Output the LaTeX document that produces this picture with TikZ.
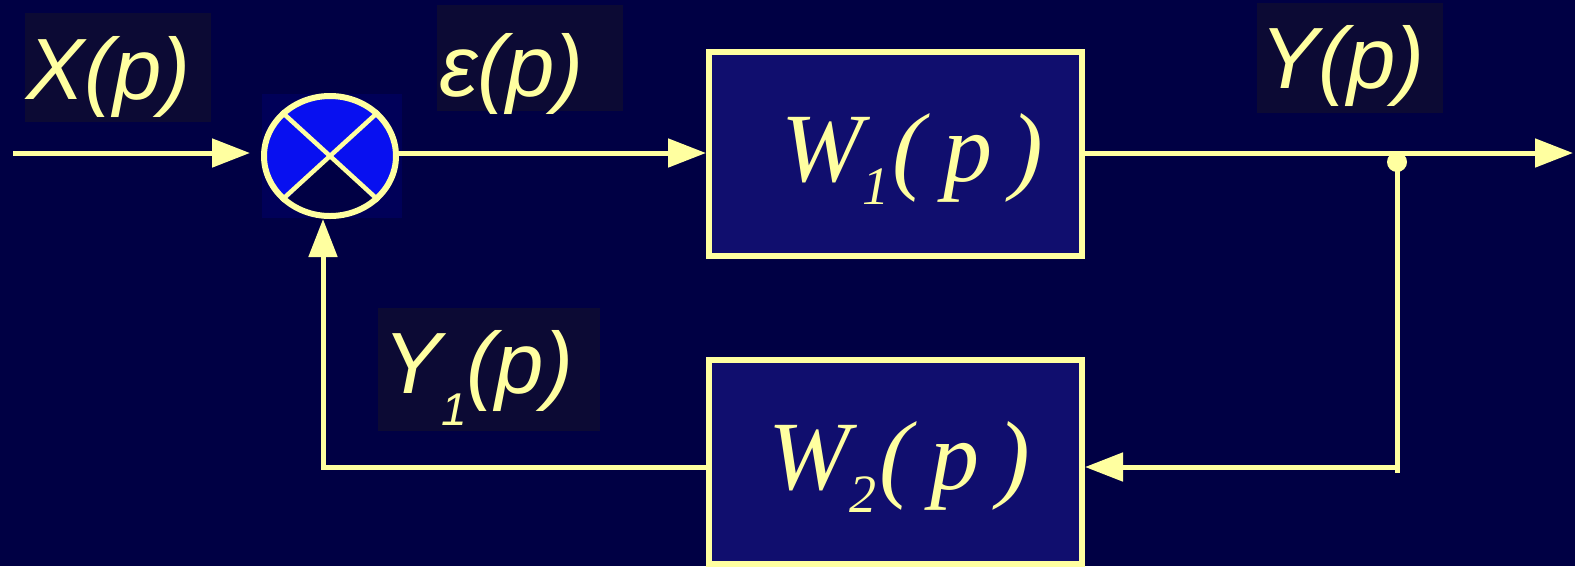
\documentclass[tikz,border=0pt]{standalone}
\usepackage{fontspec}
\setmainfont{Liberation Serif}
\setsansfont{Liberation Sans}
\usetikzlibrary{arrows.meta, shapes.geometric}
\definecolor{bgnavy}{RGB}{0, 0, 68}
\definecolor{lblnavy}{RGB}{12, 10, 52}
\definecolor{blocknavy}{RGB}{16, 14, 110}
\definecolor{juncnavy}{RGB}{0, 0, 88}
\definecolor{sumblue}{RGB}{8, 16, 240}
\definecolor{cream}{RGB}{255, 255, 160}
\newcommand{\wsub}[1]{\raisebox{-23pt}{\fontsize{54}{60}\selectfont #1}\kern3pt}
\newcommand{\ysub}[1]{\raisebox{-32pt}{\fontsize{46}{50}\selectfont #1}}
\newcommand{\parg}{(\kern18pt p\kern18pt)}

\begin{document}
\begin{tikzpicture}[
      x=1pt, y=-1pt,
      >=Triangle,
      wire/.style={draw=cream, line width=5pt},
      arrow/.style={wire, -{Triangle[length=38pt, width=28pt]}},
      block/.style={rectangle, draw=cream, line width=6pt, fill=blocknavy, text=cream, minimum width=373pt, minimum height=204pt, text height=68pt, text depth=14pt, align=left, font=\fontsize{98}{110}\selectfont\itshape},
      sumjunc/.style={ellipse, draw=cream, line width=4pt, fill=sumblue, minimum width=134pt, minimum height=122pt, inner sep=0pt},
      lbl/.style={fill=lblnavy, text=cream, anchor=base west, align=left, font=\fontsize{87}{95}\selectfont\sffamily\itshape}
  ]
  \useasboundingbox (0,0) rectangle (1575,566);
  \fill[bgnavy] (0,0) rectangle (1575,566);

  % Summing junction
  \fill[juncnavy] (262,94) rectangle (402,218);
  \node[sumjunc] (sum) at (330,156) {};
  \begin{scope}
    \clip (sum.center) ellipse [x radius=65, y radius=59];
    \fill[bgnavy] (sum.center) -- ++(130,130) -- ++(-260,0) -- cycle;
  \end{scope}
  \draw[cream, line width=4.5pt] (sum.north west) -- (sum.south east) (sum.north east) -- (sum.south west);
  \draw[cream, line width=4pt] (sum.center) ellipse [x radius=65, y radius=59];

  % Blocks
  \node[block, text width=229pt, inner xsep=72pt] (w1) at (895.5,154) {\mbox{W\wsub{1}\parg}};
  \node[block, text width=255pt, inner xsep=59pt] (w2) at (895.5,462) {\mbox{W\wsub{2}\parg}};

  % Coordinates
  \coordinate (in) at (13,153);
  \coordinate (out) at (1573,153);
  \coordinate (tap) at (1397,162);
  \coordinate (corner) at (1397,467);
  \coordinate (fb) at (323,467);

  % Arrows
  \draw[arrow] (in) -- ([xshift=-11pt]sum.west |- in);
  \draw[arrow] (sum.east |- in) -- (w1.west |- in);
  \draw[arrow] (w1.east |- out) -- (out);
  \fill[cream] (tap) circle [radius=10];
  \draw[wire] (tap) -- ([yshift=-6pt]corner);
  \draw[arrow] (corner) -- (w2.east |- corner);
  \draw[arrow] (w2.west |- fb) -- (fb) -- (fb |- sum.south);

  % Signal labels
  \node[lbl, text width=184pt, inner xsep=1pt, text height=83pt, text depth=20pt] (xlbl) at (25,99) {X(p)};
  \node[lbl, text width=182pt, inner xsep=2pt, text height=88pt, text depth=12pt] (elbl) at (437,96) {ε(p)};
  \node[lbl, text width=180pt, inner xsep=3pt, text height=82pt, text depth=22pt] (ylbl) at (1257,88) {Y(p)};
  \node[lbl, text width=212pt, inner xsep=5pt, text height=82pt, text depth=35pt] (y1lbl) at (378,393) {Y\ysub{1}(p)};

  \end{tikzpicture}
\end{document}
